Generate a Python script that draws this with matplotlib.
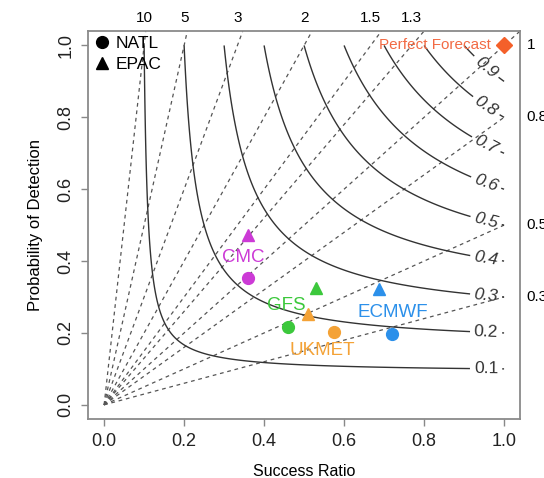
import numpy as np
import matplotlib
matplotlib.use("Agg")
from matplotlib import pyplot as plt
from matplotlib.lines import Line2D

plt.rcParams['font.family'] = ['Liberation Sans', 'DejaVu Sans']

# model scores (success ratio, probability of detection)
models = ["CMC", "GFS", "UKMET", "ECMWF"]
model_colors = ["#CC3AD6", "#3CC83C", "#F4A236", "#2C90EA"]
natl_sr = [0.359, 0.459, 0.576, 0.721]
natl_pod = [0.353, 0.217, 0.203, 0.197]
epac_sr = [0.359, 0.531, 0.509, 0.688]
epac_pod = [0.473, 0.326, 0.252, 0.323]
name_x = [0.349, 0.456, 0.546, 0.721]
name_y = [0.411, 0.275, 0.150, 0.256]

csi_levels = [0.1, 0.2, 0.3, 0.4, 0.5, 0.6, 0.7, 0.8, 0.9]
bias_levels = [0.3, 0.5, 0.8, 1, 1.3, 1.5, 2, 3, 5, 10]
bias_labels = ["0.3", "0.5", "0.8", "1", "1.3", "1.5", "2", "3", "5", "10"]

fig = plt.figure(figsize=(5.44, 4.78), dpi=100)
ax = fig.add_axes([0.162, 0.123, 0.794, 0.812])
ax.set_xlim(-0.04, 1.04)
ax.set_ylim(-0.04, 1.04)

# bias lines
for b, lab in zip(bias_levels, bias_labels):
    if b >= 1:
        xe = 1.04 / b
    else:
        xe = 1.0
    ax.plot([0, xe], [0, b * xe], color="#555555", lw=0.9, ls=(0, (3, 3)), zorder=1)
    if b > 1:
        ax.text(1 / b, 1.075, lab, ha="center", va="center", fontsize=11, clip_on=False)
    else:
        ax.text(1.057, b, lab, ha="left", va="center", fontsize=11, clip_on=False)

# CSI contours
sr = np.linspace(0.001, 1, 600)
pod = np.linspace(0.001, 1, 600)
SR, POD = np.meshgrid(sr, pod)
CSI = 1 / (1 / SR + 1 / POD - 1)
cs = ax.contour(SR, POD, CSI, levels=csi_levels, colors="#333333", linewidths=1.0, zorder=2)
lab_x = 0.955
pos = [(lab_x, 1 / (1 / c + 1 - 1 / lab_x)) for c in csi_levels]
txts = ax.clabel(cs, inline=True, inline_spacing=4, fontsize=12.5,
                 fmt={c: "%g" % c for c in csi_levels}, manual=pos)
for t in txts:
    if t.get_text() not in ("0.1", "0.2"):
        t.set_style("italic")

# perfect forecast
ax.plot(1, 1, marker="D", color="#F4602A", ms=8, zorder=5, clip_on=False)
ax.text(0.968, 1.0, "Perfect Forecast", color="#F26A44", fontsize=11, ha="right", va="center")

# model points
for i, m in enumerate(models):
    ax.plot(natl_sr[i], natl_pod[i], "o", color=model_colors[i], ms=8.5, zorder=5)
    ax.plot(epac_sr[i], epac_pod[i], "^", color=model_colors[i], ms=9, zorder=5)
    ax.text(name_x[i], name_y[i], m, color=model_colors[i], fontsize=13.5,
            ha="center", va="center", zorder=6)

handles = [Line2D([], [], marker="o", color="black", ls="none", ms=8.5),
           Line2D([], [], marker="^", color="black", ls="none", ms=9)]
ax.legend(handles, ["NATL", "EPAC"], loc="upper left", frameon=False, fontsize=12.5,
          handletextpad=0.2, borderaxespad=0.1, borderpad=0.2, labelspacing=0.3,
          handlelength=1.2, bbox_to_anchor=(-0.005, 1.0))

ax.set_xticks([0, 0.2, 0.4, 0.6, 0.8, 1.0])
ax.set_yticks([0, 0.2, 0.4, 0.6, 0.8, 1.0])
ax.set_xticklabels(["0.0", "0.2", "0.4", "0.6", "0.8", "1.0"])
ax.set_yticklabels(["0.0", "0.2", "0.4", "0.6", "0.8", "1.0"], rotation=90, va="center")
ax.tick_params(length=5, width=1, color="#888888", labelsize=13, labelcolor="#222222", pad=5)
for s in ax.spines.values():
    s.set_color("#8a8a8a")
    s.set_linewidth(1.3)

ax.set_xlabel("Success Ratio", fontsize=11.5, labelpad=10)
ax.set_ylabel("Probability of Detection", fontsize=12, labelpad=10)

fig.savefig("out.png", dpi=100)
